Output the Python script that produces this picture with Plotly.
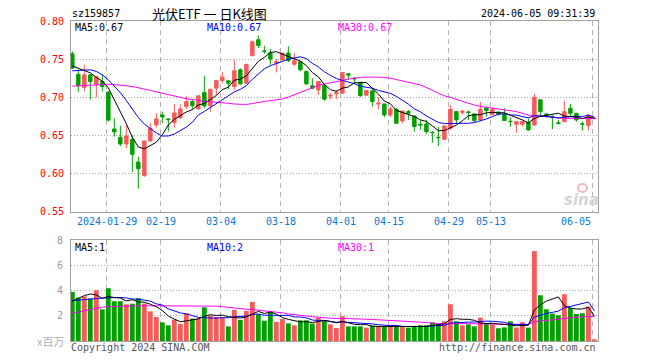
import plotly.graph_objects as go
import pandas as pd

# ---------------- data ----------------
dates = (
    ["2024-01-%02d" % d for d in [19, 22, 23, 24, 25, 26, 29, 30, 31]]
    + ["2024-02-%02d" % d for d in [1, 2, 5, 6, 7, 8, 19, 20, 21, 22, 23, 26, 27, 28, 29]]
    + ["2024-03-%02d" % d for d in [1, 4, 5, 6, 7, 8, 11, 12, 13, 14, 15, 18, 19, 20, 21, 22, 25, 26, 27, 28, 29]]
    + ["2024-04-%02d" % d for d in [1, 2, 3, 8, 9, 10, 11, 12, 15, 16, 17, 18, 19, 22, 23, 24, 25, 26, 29, 30]]
    + ["2024-05-%02d" % d for d in [6, 7, 8, 9, 10, 13, 14, 15, 16, 17, 20, 21, 22, 23, 24, 27, 28, 29, 30, 31]]
    + ["2024-06-%02d" % d for d in [3, 4, 5]]
)

opens = [0.757, 0.730, 0.7127, 0.7294, 0.7171, 0.7206, 0.7066, 0.6583, 0.6474, 0.6386,
         0.6447, 0.6149, 0.597, 0.6425, 0.6636, 0.6768, 0.6715, 0.6667, 0.6732, 0.6877,
         0.6943, 0.6846, 0.7061, 0.6886, 0.7118, 0.7219, 0.7215, 0.714, 0.736, 0.7184,
         0.7544, 0.7754, 0.7607, 0.7579, 0.7447, 0.7491, 0.7579, 0.7434, 0.7465, 0.7338,
         0.7149, 0.7096, 0.7158, 0.7015, 0.7044, 0.7053, 0.7307, 0.725, 0.7197, 0.7026,
         0.7083, 0.691, 0.6912, 0.6768, 0.6842, 0.6689, 0.6811, 0.6754, 0.6645, 0.6649,
         0.6539, 0.6474, 0.6447, 0.6592, 0.6811, 0.680, 0.6807, 0.6781, 0.6702, 0.686,
         0.6776, 0.6807, 0.6772, 0.6684, 0.6645, 0.6645, 0.6671, 0.6636, 0.6965, 0.678,
         0.675, 0.6665, 0.668, 0.6855, 0.6789, 0.665, 0.6627, 0.672]
highs = [0.760, 0.736, 0.7425, 0.730, 0.728, 0.730, 0.708, 0.6724, 0.6627, 0.6627,
         0.650, 0.622, 0.6434, 0.6658, 0.679, 0.681, 0.672, 0.6908, 0.6908, 0.7018,
         0.6978, 0.7018, 0.728, 0.7105, 0.7228, 0.7333, 0.7215, 0.749, 0.7377, 0.7439,
         0.7741, 0.7811, 0.7675, 0.7632, 0.750, 0.7579, 0.7667, 0.7579, 0.7465, 0.7351,
         0.725, 0.7215, 0.7158, 0.706, 0.7096, 0.7325, 0.7316, 0.7263, 0.7197, 0.7088,
         0.7123, 0.700, 0.6912, 0.6877, 0.6855, 0.682, 0.6833, 0.6754, 0.6702, 0.6702,
         0.6557, 0.6614, 0.6636, 0.6899, 0.6811, 0.6833, 0.6825, 0.6781, 0.6939, 0.6868,
         0.6868, 0.6807, 0.6855, 0.6737, 0.668, 0.668, 0.6715, 0.7044, 0.6965, 0.679,
         0.676, 0.6702, 0.695, 0.6912, 0.6789, 0.668, 0.6781, 0.673]
lows = [0.737, 0.707, 0.7075, 0.697, 0.700, 0.7075, 0.668, 0.6482, 0.636, 0.633,
        0.602, 0.580, 0.5956, 0.6417, 0.660, 0.6658, 0.655, 0.660, 0.6715, 0.6842,
        0.6846, 0.684, 0.6855, 0.681, 0.703, 0.7184, 0.7105, 0.7096, 0.7162, 0.7184,
        0.7544, 0.7645, 0.757, 0.7425, 0.7325, 0.748, 0.746, 0.7412, 0.7342, 0.7162,
        0.7105, 0.7031, 0.6956, 0.6974, 0.6974, 0.7044, 0.7228, 0.7175, 0.700, 0.7026,
        0.6877, 0.6842, 0.6737, 0.6737, 0.6649, 0.6658, 0.6702, 0.6548, 0.657, 0.6518,
        0.6404, 0.636, 0.6439, 0.657, 0.6658, 0.6772, 0.670, 0.6667, 0.6693, 0.6746,
        0.6759, 0.6763, 0.6693, 0.6614, 0.6535, 0.6614, 0.6561, 0.6623, 0.6746, 0.673,
        0.658, 0.6645, 0.667, 0.6754, 0.668, 0.6561, 0.6561, 0.671]
closes = [0.738, 0.715, 0.7294, 0.7206, 0.7268, 0.714, 0.670, 0.6544, 0.6386, 0.6491,
          0.625, 0.6061, 0.6425, 0.6592, 0.6715, 0.6741, 0.6706, 0.6794, 0.6846, 0.6943,
          0.689, 0.7018, 0.6886, 0.7105, 0.7219, 0.7263, 0.7184, 0.7346, 0.7175, 0.743,
          0.7728, 0.768, 0.7603, 0.750, 0.7469, 0.7579, 0.7482, 0.7478, 0.736, 0.7175,
          0.7118, 0.7206, 0.6974, 0.7025, 0.7061, 0.7325, 0.729, 0.7241, 0.7022, 0.7088,
          0.6943, 0.6921, 0.6768, 0.6846, 0.6658, 0.682, 0.6789, 0.6614, 0.6636, 0.6548,
          0.6535, 0.6469, 0.6623, 0.6842, 0.6702, 0.6815, 0.680, 0.6693, 0.6842, 0.6825,
          0.6842, 0.6776, 0.6693, 0.668, 0.668, 0.668, 0.657, 0.700, 0.6811, 0.675,
          0.6735, 0.6655, 0.681, 0.6789, 0.6702, 0.6645, 0.6759, 0.6725]
# volume, millions of shares
volumes = [3.89, 3.44, 3.54, 3.36, 4.02, 2.51, 4.18, 3.15, 3.15, 2.91,
           2.95, 3.39, 2.96, 2.35, 1.90, 1.48, 1.24, 1.69, 1.35, 2.20,
           1.77, 1.77, 2.67, 2.01, 1.90, 1.90, 1.16, 2.46, 1.67, 2.38,
           3.10, 2.12, 1.61, 2.30, 1.51, 1.75, 1.40, 1.24, 1.64, 1.64,
           1.38, 1.85, 1.61, 1.32, 1.03, 1.96, 1.16, 1.16, 1.16, 1.06,
           1.24, 1.16, 1.16, 1.16, 1.16, 1.11, 1.06, 1.11, 1.24, 1.24,
           1.48, 1.32, 1.56, 2.91, 1.56, 1.24, 1.32, 1.16, 1.85, 1.38,
           1.32, 1.01, 1.08, 1.56, 1.06, 1.48, 1.06, 7.12, 3.62, 2.51,
           2.17, 2.04, 3.70, 2.62, 2.14, 2.20, 2.72, 0.13]

# moving-average values on days before the averaging window is full
ma5_lead = [0.741, 0.738, 0.7355, 0.732]
ma10_lead = [0.7346, 0.735, 0.736, 0.736, 0.7338, 0.7294, 0.7228, 0.7150, 0.7060]
ma30_lead = [0.7145, 0.715, 0.7155, 0.716, 0.7165, 0.717, 0.717, 0.7165, 0.716, 0.715,
             0.714, 0.7125, 0.711, 0.709, 0.707, 0.705, 0.703, 0.701, 0.6995, 0.698,
             0.697, 0.6955, 0.6945, 0.694, 0.6935, 0.693, 0.692, 0.691, 0.6905]
vma5_lead = [3.15, 3.35, 3.6, 3.72]
vma10_lead = [3.2, 3.25, 3.3, 3.35, 3.38, 3.4, 3.42, 3.45, 3.45]
vma30_lead = [2.2, 2.3, 2.42, 2.52, 2.62, 2.68, 2.72, 2.74, 2.75, 2.76,
              2.77, 2.78, 2.79, 2.79, 2.79, 2.79, 2.79, 2.79, 2.79, 2.79,
              2.79, 2.79, 2.79, 2.78, 2.76, 2.72, 2.66, 2.60, 2.55]

tick_dates = ["2024-01-29", "2024-02-19", "2024-03-04", "2024-03-18", "2024-04-01",
              "2024-04-15", "2024-04-29", "2024-05-13", "2024-06-05"]
tick_labels = ["2024-01-29", "02-19", "03-04", "03-18", "04-01",
               "04-15", "04-29", "05-13", "06-05"]
price_ticks = [0.55, 0.60, 0.65, 0.70, 0.75, 0.80]
vol_ticks = [2, 4, 6, 8]

code = "sz159857"
title = "光伏ETF\u00a0一\u00a0日K线图"
stamp = "2024-06-05 09:31:39"
price_legend = ["MA5:0.67", "MA10:0.67", "MA30:0.67"]
vol_legend = ["MA5:1", "MA10:2", "MA30:1"]

# ---------------- helpers ----------------
def moving_avg(vals, n, lead):
    s = pd.Series(vals, dtype=float).rolling(n).mean()
    s.iloc[:n - 1] = lead
    return s.tolist()

x = list(range(len(dates)))
ma5 = moving_avg(closes, 5, ma5_lead)
ma10 = moving_avg(closes, 10, ma10_lead)
ma30 = moving_avg(closes, 30, ma30_lead)
vma5 = moving_avg(volumes, 5, vma5_lead)
vma10 = moving_avg(volumes, 10, vma10_lead)
vma30 = moving_avg(volumes, 30, vma30_lead)

RED = "#f75a5a"
GREEN = "#03a003"
MONO = "DejaVu Sans Mono, Liberation Mono, monospace"
L, R, T, B = 71, 598, 21, 341
W, H = 660, 360
XR = [-0.22, 87.6]


def px(v):
    return (v - L) / (R - L)


def py(v):
    return (B - v) / (B - T)


def xpix(idx):
    return L + (idx - XR[0]) / (XR[1] - XR[0]) * (R - L)


fig = go.Figure()

fig.add_trace(go.Candlestick(
    x=x, open=opens, high=highs, low=lows, close=closes,
    increasing=dict(line=dict(color=RED, width=1), fillcolor=RED),
    decreasing=dict(line=dict(color=GREEN, width=1), fillcolor=GREEN),
    whiskerwidth=0, xaxis="x", yaxis="y", hoverinfo="skip", showlegend=False,
))
for vals, col in [(ma30, "#ff00ff"), (ma10, "#0000ff"), (ma5, "#000000")]:
    fig.add_trace(go.Scatter(x=x, y=vals, mode="lines", line=dict(color=col, width=1),
                             xaxis="x", yaxis="y", hoverinfo="skip", showlegend=False))

bar_colors = [RED if c >= o else GREEN for o, c in zip(opens, closes)]
fig.add_trace(go.Bar(x=x, y=volumes, marker=dict(color=bar_colors, line=dict(width=0)),
                     width=0.8, xaxis="x2", yaxis="y2", hoverinfo="skip", showlegend=False))
for vals, col in [(vma30, "#ff00ff"), (vma10, "#0000ff"), (vma5, "#000000")]:
    fig.add_trace(go.Scatter(x=x, y=vals, mode="lines", line=dict(color=col, width=1),
                             xaxis="x2", yaxis="y2", hoverinfo="skip", showlegend=False))

grid_x = [dates.index(d) - 0.28 for d in tick_dates]
frame = "#a0a0a0"
common_x = dict(range=XR, showgrid=True, gridcolor="#b4b4b4", gridwidth=1, griddash="5px,4px",
                tickvals=grid_x, showticklabels=False, showline=True, mirror=True,
                linecolor=frame, linewidth=1, ticks="", zeroline=False, fixedrange=True)

fig.update_layout(
    width=W, height=H,
    margin=dict(l=L, r=W - R, t=T, b=H - B, pad=0),
    paper_bgcolor="white", plot_bgcolor="white",
    showlegend=False, boxgap=0.18, bargap=0.2,
    xaxis=dict(**common_x, domain=[0, 1], anchor="y", rangeslider=dict(visible=False)),
    xaxis2=dict(**common_x, domain=[0, 1], anchor="y2"),
    yaxis=dict(domain=[py(211.5), 1], range=[0.55, 0.80], tickvals=price_ticks,
               ticktext=["%.2f" % v for v in price_ticks],
               tickfont=dict(family=MONO, size=10, color="#ff0000"),
               showgrid=True, gridcolor="#a8a8a8", griddash="1px,2px",
               showline=True, mirror=True, linecolor=frame, linewidth=1,
               ticks="", zeroline=False, ticklabelstandoff=4, fixedrange=True),
    yaxis2=dict(domain=[0, py(240)], range=[0, 8], tickvals=vol_ticks,
                tickfont=dict(family=MONO, size=10, color="#999999"),
                showgrid=True, gridcolor="#a8a8a8", griddash="1px,2px",
                showline=True, mirror=True, linecolor=frame, linewidth=1,
                ticks="", zeroline=False, ticklabelstandoff=5, fixedrange=True),
)


def note(text, xp, yp, anchor="left", size=10, color="#000", family=MONO, **kw):
    fig.add_annotation(text=text, x=px(xp), y=py(yp), xref="paper", yref="paper",
                       xanchor=anchor, yanchor="middle", showarrow=False,
                       font=dict(family=family, size=size, color=color), **kw)


# date labels under the price panel (last one kept inside the frame, as in the original)
for i, (g, lab) in enumerate(zip(grid_x, tick_labels)):
    gx = xpix(g)
    if i == len(grid_x) - 1:
        note(lab, gx, 221, anchor="right", color="#0a78d2")
    else:
        note(lab, gx, 221, anchor="center", color="#0a78d2")

note(code, 70, 13)
note(title, 209, 13, anchor="center", size=13, family="Noto Sans CJK SC")
note(stamp, 597, 13, anchor="right")
for txt, xp, col in zip(price_legend, [73, 205, 336], ["#000000", "#0000ff", "#ff00ff"]):
    note(txt, xp, 27, color=col)
for txt, xp, col in zip(vol_legend, [73, 205, 336], ["#000000", "#0000ff", "#ff00ff"]):
    note(txt, xp, 247, color=col)
note("x百万", 66, 341, anchor="right", size=11, color="#b0b0b0", family="Noto Sans CJK SC")
note("Copyright 2024 SINA.COM", 69, 347, color="#555555")
note("http://finance.sina.com.cn", 598, 347, anchor="right", color="#555555")
note("<b><i>sina</i></b>", 581, 200, anchor="center", size=15, color="#d4d4d4",
     family="DejaVu Sans")
fig.add_shape(type="circle", xref="paper", yref="paper",
              x0=px(578), x1=px(587), y0=py(192), y1=py(184),
              line=dict(color="#f0b8b8", width=2), fillcolor="rgba(0,0,0,0)")

fig.write_html("out.html", config={"displayModeBar": False, "staticPlot": True},
               post_script="document.body.style.margin='0';document.body.style.overflow='hidden';")
